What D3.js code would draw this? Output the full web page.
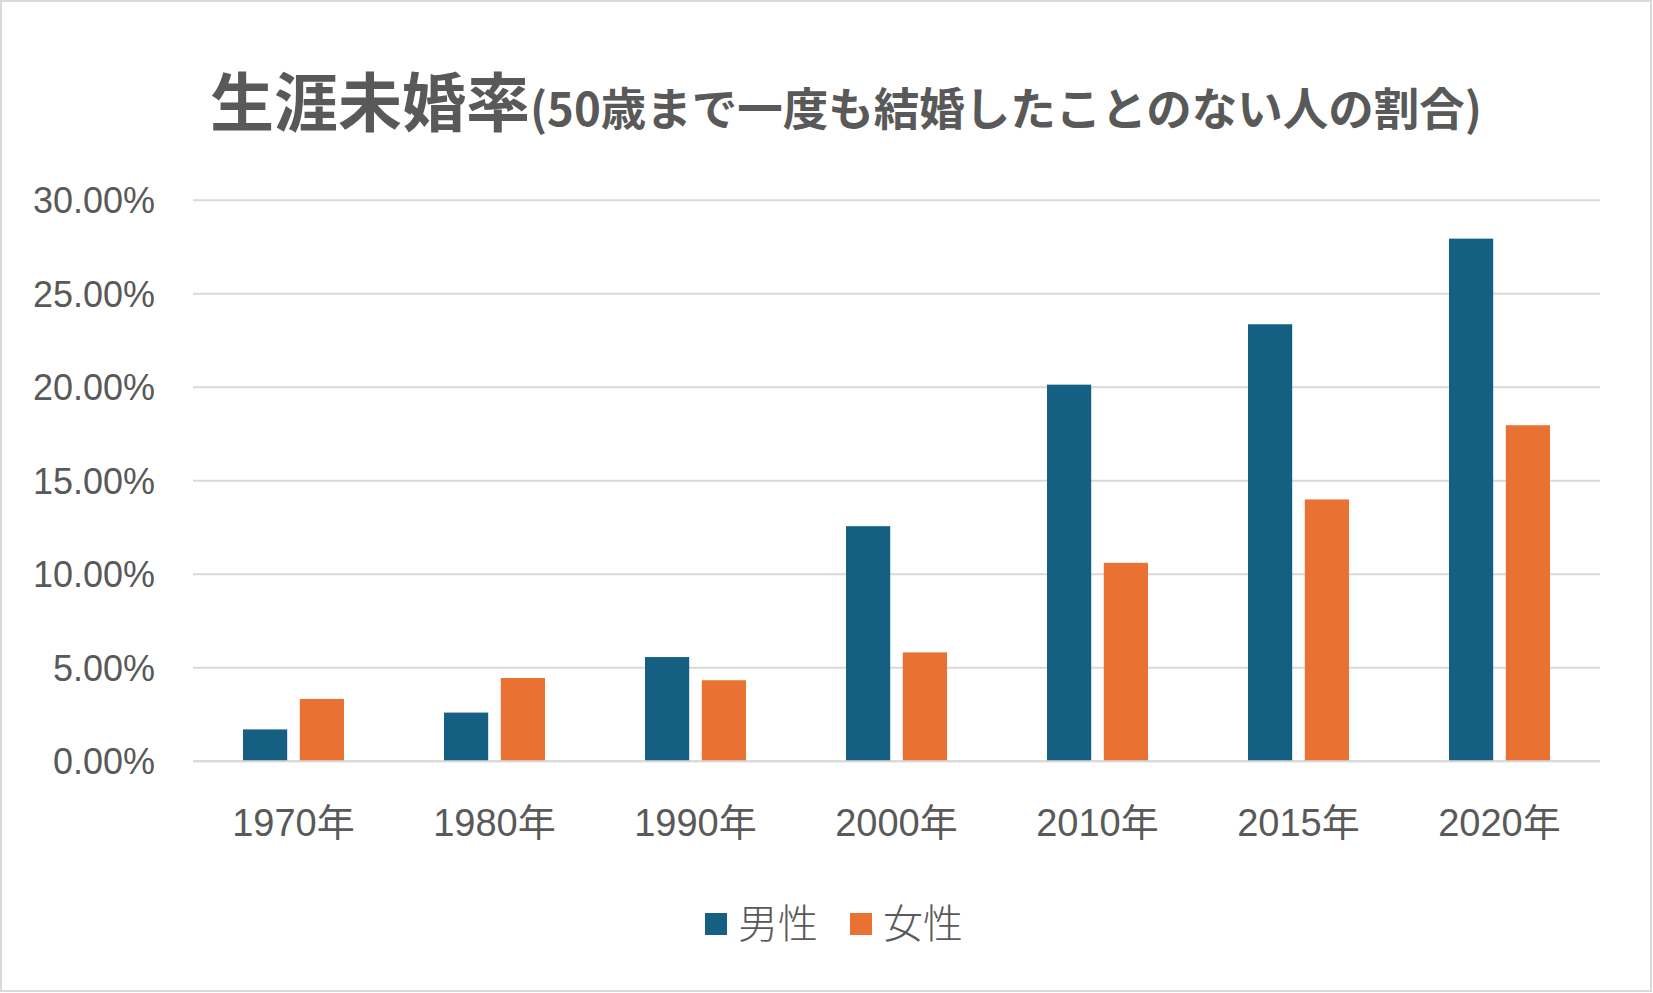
<!DOCTYPE html>
<html><head><meta charset="utf-8">
<script src="https://cdn.jsdelivr.net/npm/d3@7"></script>
<style>html,body{margin:0;padding:0;background:#fff;}svg{display:block;}</style>
</head><body>
<svg id="chart" width="1653" height="993"></svg>
<script>
const categories = ["1970年","1980年","1990年","2000年","2010年","2015年","2020年"];
const seriesNames = ["男性","女性"];
const maleValues = [1.70, 2.60, 5.57, 12.57, 20.14, 23.37, 27.95];
const femaleValues = [3.33, 4.45, 4.33, 5.82, 10.61, 14.00, 17.97];
const yTicks = [0, 5, 10, 15, 20, 25, 30];
const colors = ["#156082", "#E97132"];
const titleMain = "生涯未婚率";
const titleSub = "(50歳まで一度も結婚したことのない人の割合)";

(function(){
const svg = d3.select("#chart");
const W = 1653, H = 993;
const pLeft = 193, pRight = 1600, pTop = 200.3, pBottom = 761.2;
const txt = "#595959";
const axisFont = "'Liberation Sans','Noto Sans CJK JP',sans-serif";

svg.append("rect").attr("x",1).attr("y",1).attr("width",W-3).attr("height",H-3)
  .attr("fill","#fff").attr("stroke","#d9d9d9").attr("stroke-width",2);

const x0 = d3.scaleBand().domain(categories).range([pLeft, pRight]).padding(0);
const bw = x0.bandwidth();
const groupW = bw * 0.5025;
const x1 = d3.scaleBand().domain(seriesNames)
  .range([(bw - groupW) / 2, (bw + groupW) / 2]).paddingInner(0.222).paddingOuter(0);
const y = d3.scaleLinear().domain([0, 30]).range([pBottom, pTop]);

svg.append("g").selectAll("line").data(yTicks).join("line")
  .attr("x1", pLeft).attr("x2", pRight)
  .attr("y1", d => y(d)).attr("y2", d => y(d))
  .attr("stroke", "#d9d9d9").attr("stroke-width", 2);

svg.append("g").selectAll("text").data(yTicks).join("text")
  .attr("x", 155).attr("y", d => y(d)).attr("dy", "0.36em")
  .attr("text-anchor", "end").attr("fill", txt)
  .attr("font-family", axisFont).attr("font-size", 36)
  .text(d => d3.format(".2f")(d) + "%");

const data = categories.map((c, i) => ({cat: c, vals: [maleValues[i], femaleValues[i]]}));
const groups = svg.append("g").selectAll("g").data(data).join("g")
  .attr("transform", d => `translate(${x0(d.cat)},0)`);
groups.selectAll("rect").data(d => d.vals.map((v, j) => ({s: seriesNames[j], v, j})))
  .join("rect")
  .attr("x", d => x1(d.s)).attr("width", x1.bandwidth())
  .attr("y", d => y(d.v)).attr("height", d => y(0) - y(d.v))
  .attr("fill", d => colors[d.j]);

svg.append("line").attr("x1", pLeft).attr("x2", pRight).attr("y1", y(0)).attr("y2", y(0))
  .attr("stroke", "#d9d9d9").attr("stroke-width", 2);

svg.append("g").selectAll("text").data(categories).join("text")
  .attr("x", d => x0(d) + bw / 2).attr("y", 836)
  .attr("text-anchor", "middle").attr("fill", txt)
  .attr("font-family", axisFont).attr("font-size", 38)
  .text(d => d);

const t = svg.append("text").attr("x", 846).attr("y", 126).attr("text-anchor", "middle")
  .attr("fill", txt).attr("font-family", "'Noto Sans CJK JP',sans-serif").attr("font-weight", "bold");
t.append("tspan").attr("font-size", 64).text(titleMain);
t.append("tspan").attr("font-size", 45.5).text(titleSub);

const legendX = [705, 850];
const lg = svg.append("g").selectAll("g").data(seriesNames).join("g")
  .attr("transform", (d, i) => `translate(${legendX[i]},913)`);
lg.append("rect").attr("width", 22).attr("height", 22).attr("fill", (d, i) => colors[i]);
lg.append("text").attr("x", 33).attr("y", 25).attr("fill", txt)
  .attr("font-family", "'Noto Sans CJK JP',sans-serif").attr("font-weight", 300)
  .attr("font-size", 40).text(d => d);
})();
</script>
</body></html>
